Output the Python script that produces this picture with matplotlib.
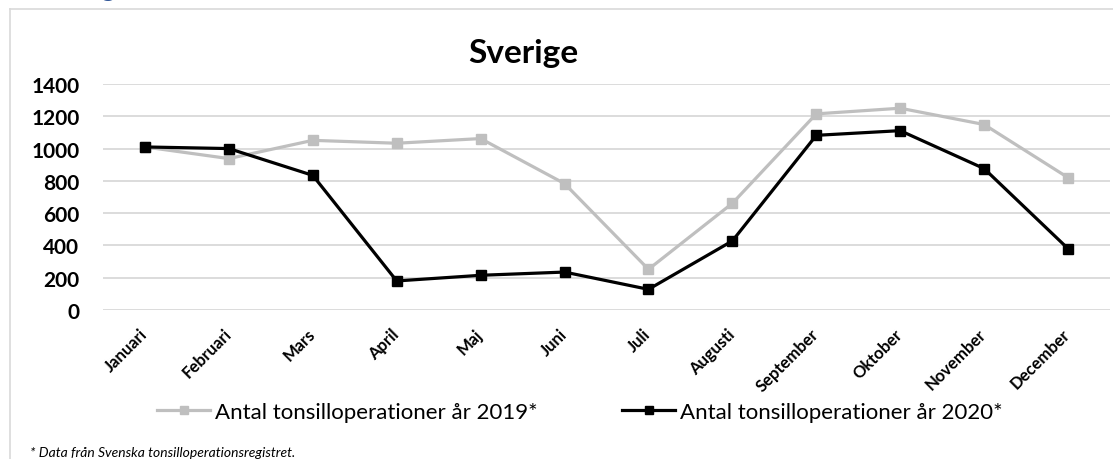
import matplotlib
matplotlib.use('Agg')
import matplotlib.pyplot as plt
from matplotlib.lines import Line2D
import matplotlib.transforms as mtransforms

plt.rcParams['font.family'] = ['Lato', 'DejaVu Sans']

months = ['Januari', 'Februari', 'Mars', 'April', 'Maj', 'Juni', 'Juli',
          'Augusti', 'September', 'Oktober', 'November', 'December']
ops_2019 = [1010, 938, 1051, 1033, 1062, 783, 252, 661, 1215, 1250, 1149, 820]
ops_2020 = [1010, 1000, 834, 180, 215, 235, 128, 428, 1082, 1111, 876, 380]
yticks = [0, 200, 400, 600, 800, 1000, 1200, 1400]

label_2019 = 'Antal tonsilloperationer år 2019*'
label_2020 = 'Antal tonsilloperationer år 2020*'

W, H = 1113, 460
fig = plt.figure(figsize=(W / 100, H / 100), dpi=100)

def fx(px):
    return px / W

def fy(py):
    return 1 - py / H

# chart frame (light grey, runs off the right/bottom edge)
fig.add_artist(Line2D([fx(10), 1.0], [fy(10), fy(10)], color='#d9d9d9', lw=1.2))
fig.add_artist(Line2D([fx(10), fx(10)], [fy(10), 0.0], color='#d9d9d9', lw=1.2))

# heading above the chart, mostly cut off at the top edge
fig.text(fx(40), fy(-4), 'Sverige', color='#2f5597', fontsize=20, va='baseline', ha='left')

ax = fig.add_axes([fx(103), fy(311), fx(1110) - fx(103), fy(85) - fy(311)])
x = list(range(len(months)))

ax.plot(x, ops_2019, color='#bfbfbf', lw=2.3, marker='s', markersize=7, zorder=3)
ax.plot(x, ops_2020, color='black', lw=2.3, marker='s', markersize=7, zorder=4)

ax.set_xlim(-0.5, len(months) - 0.5)
ax.set_ylim(0, 1400)
ax.set_yticks(yticks)
ax.set_yticklabels([str(v) for v in yticks], fontweight='bold', fontsize=15)
ax.grid(axis='y', color='#d9d9d9', lw=1.3)
ax.set_axisbelow(True)
for s in ax.spines.values():
    s.set_visible(False)
ax.tick_params(axis='y', length=0, pad=17)
ax.tick_params(axis='x', length=0, pad=11)

ax.set_xticks(x)
ax.set_xticklabels(months, fontweight='bold', fontsize=12, rotation=45,
                   ha='right', va='top', rotation_mode='anchor')
off = mtransforms.ScaledTranslation(-6 / 100, 0, fig.dpi_scale_trans)
for lab in ax.get_xticklabels():
    lab.set_transform(lab.get_transform() + off)

fig.text(fx(523), fy(63), 'Sverige', fontsize=24, fontweight='bold',
         ha='center', va='baseline')

handles = [Line2D([], [], color='#bfbfbf', lw=2.3, marker='s', markersize=6),
           Line2D([], [], color='black', lw=2.3, marker='s', markersize=6)]
fig.legend(handles, [label_2019, label_2020], loc='center left',
           bbox_to_anchor=(fx(157), fy(413)), ncol=2, frameon=False,
           fontsize=16, handlelength=2.4, handletextpad=0.2,
           columnspacing=3.8, borderpad=0, borderaxespad=0)

fig.text(fx(30), fy(457), '* Data från Svenska tonsilloperationsregistret.',
         fontsize=10, style='italic', ha='left', va='baseline')

fig.savefig('out.png', dpi=100)
